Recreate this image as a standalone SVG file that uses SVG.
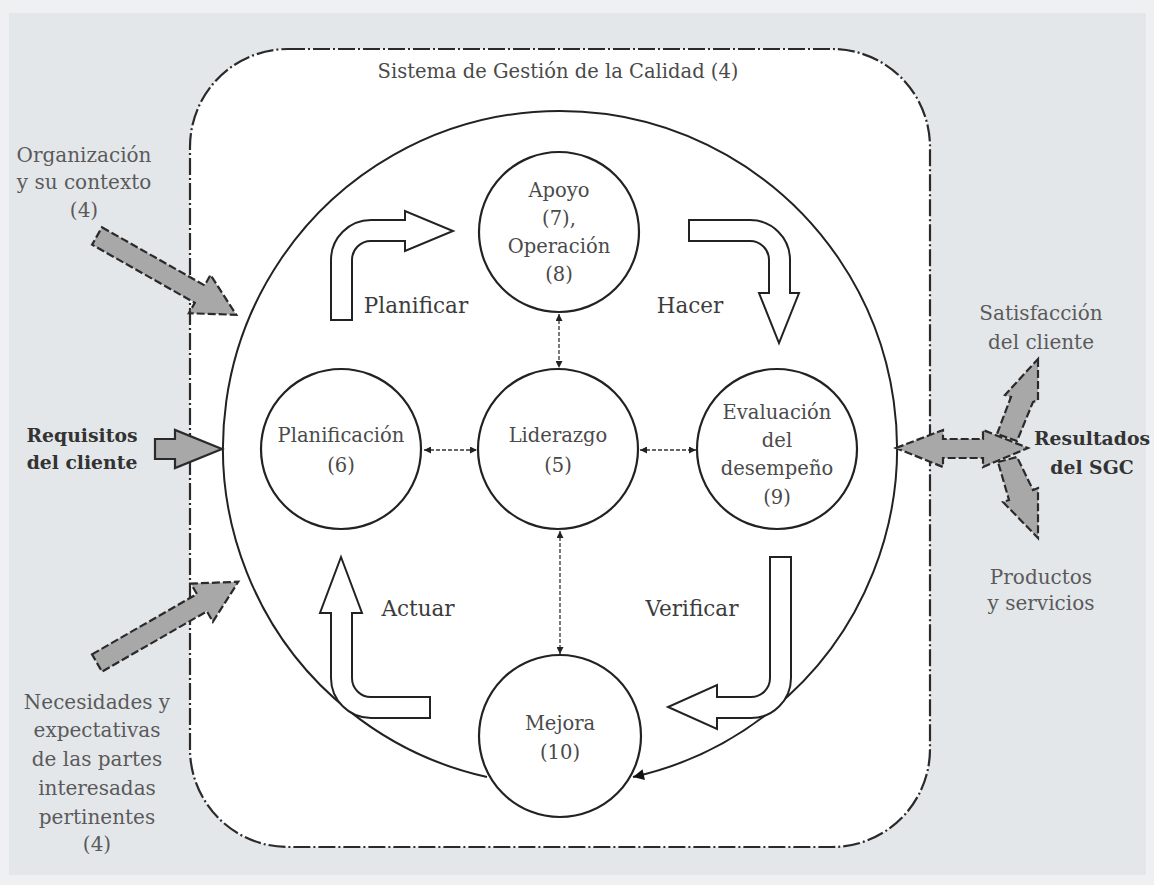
<svg xmlns="http://www.w3.org/2000/svg" width="1154" height="885" viewBox="0 0 1154 885">
<style>
.bg{fill:#e4e7ea}
.frame{fill:#ffffff;stroke:#2a2a2a;stroke-width:2.2;stroke-dasharray:17 3 2 3}
.node{fill:#ffffff;stroke:#222;stroke-width:2.2}
.big{fill:none;stroke:#222;stroke-width:2}
.ntext{font-family:"DejaVu Serif",serif;font-size:19.5px;fill:#4a4a4a;text-anchor:middle}
.lbl{font-family:"DejaVu Serif",serif;font-size:21.5px;fill:#3c3c3c;text-anchor:middle}
.otext{font-family:"DejaVu Serif",serif;font-size:20px;fill:#5a5a5a;text-anchor:middle}
.btext{font-family:"DejaVu Serif",serif;font-size:18.8px;font-weight:bold;fill:#333;text-anchor:middle}
.title{font-family:"DejaVu Serif",serif;font-size:19.5px;fill:#4a4a4a;text-anchor:middle}
.hollow{fill:#ffffff;stroke:#222;stroke-width:2}
.gray{fill:#a8a8a8;stroke:#2a2a2a;stroke-width:2.2;stroke-dasharray:8 3;stroke-linejoin:miter}
.graysolid{fill:#a8a8a8;stroke:#2a2a2a;stroke-width:2.2}
.dotted{fill:none;stroke:#333;stroke-width:1.3;stroke-dasharray:4 2;marker-start:url(#ds);marker-end:url(#de)}
</style>
<defs>
<marker id="de" viewBox="0 0 10 10" refX="10" refY="5" markerWidth="9" markerHeight="7" markerUnits="userSpaceOnUse" orient="auto"><path d="M0,0 L10,5 L0,10 z" fill="#222"/></marker>
<marker id="ds" viewBox="0 0 10 10" refX="0" refY="5" markerWidth="9" markerHeight="7" markerUnits="userSpaceOnUse" orient="auto"><path d="M10,0 L0,5 L10,10 z" fill="#222"/></marker>
<marker id="bigend" viewBox="0 0 10 10" refX="10" refY="5" markerWidth="20" markerHeight="11" markerUnits="userSpaceOnUse" orient="auto"><path d="M0,0 L10,5 L0,10 z" fill="#111"/></marker>
</defs>
<rect x="0" y="0" width="1154" height="885" fill="#eef0f1"/>
<rect class="bg" x="9" y="13" width="1137" height="862"/>
<rect id="sgc-frame" class="frame" x="190" y="49" width="740" height="798" rx="98" ry="98"/>
<text class="title" x="558" y="78">Sistema de Gestión de la Calidad (4)</text>

<g id="connectors">
<path class="big" d="M 487 777 A 337 337 0 1 1 633 777" marker-end="url(#bigend)"/>
<line class="dotted" x1="424" y1="450" x2="477" y2="450"/>
<line class="dotted" x1="640" y1="450" x2="696" y2="450"/>
<line class="dotted" x1="559" y1="314" x2="559" y2="368"/>
<line class="dotted" x1="560" y1="531" x2="560" y2="654"/>
</g>

<g id="cycle-arrows">
<path id="arrow-planificar" class="hollow" d="M331,320 L331,260 A40,40 0 0 1 371,220 L405,220 L405,211 L453,231 L405,251 L405,241 L371,241 A19,19 0 0 0 352,260 L352,320 Z"/>
<path id="arrow-hacer" class="hollow" d="M689,220 L750,220 A40,40 0 0 1 790,260 L790,293 L799,293 L779,343 L759,293 L769,293 L769,260 A19,19 0 0 0 750,241 L689,241 Z"/>
<path id="arrow-verificar" class="hollow" d="M770,557 L791,557 L791,678 A40,40 0 0 1 751,718 L717,718 L717,729 L668,707 L717,685 L717,697 L751,697 A19,19 0 0 0 770,678 Z"/>
<path id="arrow-actuar" class="hollow" d="M341,557 L362,613 L352,613 L352,678 A19,19 0 0 0 371,697 L430,697 L430,718 L371,718 A40,40 0 0 1 331,678 L331,613 L320,613 Z"/>
</g>
<g id="cycle-labels">
<text class="lbl" x="416" y="313">Planificar</text>
<text class="lbl" x="690" y="313">Hacer</text>
<text class="lbl" x="418" y="616">Actuar</text>
<text class="lbl" x="692" y="616">Verificar</text>
</g>

<g id="node-apoyo">
<circle class="node" cx="559" cy="232" r="80"/>
<text class="ntext" x="559" y="197">Apoyo</text>
<text class="ntext" x="559" y="225">(7),</text>
<text class="ntext" x="559" y="253">Operación</text>
<text class="ntext" x="559" y="281">(8)</text>
</g>
<g id="node-planificacion">
<circle class="node" cx="341" cy="449" r="80"/>
<text class="ntext" x="341" y="442">Planificación</text>
<text class="ntext" x="341" y="472">(6)</text>
</g>
<g id="node-liderazgo">
<circle class="node" cx="558" cy="449" r="80"/>
<text class="ntext" x="558" y="442">Liderazgo</text>
<text class="ntext" x="558" y="472">(5)</text>
</g>
<g id="node-evaluacion">
<circle class="node" cx="777" cy="449" r="80"/>
<text class="ntext" x="777" y="419">Evaluación</text>
<text class="ntext" x="777" y="447">del</text>
<text class="ntext" x="777" y="475">desempeño</text>
<text class="ntext" x="777" y="504">(9)</text>
</g>
<g id="node-mejora">
<circle class="node" cx="560" cy="736" r="81"/>
<text class="ntext" x="560" y="730">Mejora</text>
<text class="ntext" x="560" y="759">(10)</text>
</g>

<g id="input-organizacion">
<polygon class="gray" transform="translate(97,236) rotate(29.5)" points="0,-10 118,-10 118,-22 160,0 118,22 118,10 0,10"/>
<text class="otext" x="84" y="162">Organización</text>
<text class="otext" x="84" y="189">y su contexto</text>
<text class="otext" x="84" y="217">(4)</text>
</g>
<g id="input-requisitos">
<polygon class="graysolid" points="155,439 175,439 175,430 222,449 175,468 175,459 155,459"/>
<text class="btext" x="82" y="442">Requisitos</text>
<text class="btext" x="82" y="469">del cliente</text>
</g>
<g id="input-necesidades">
<polygon class="gray" transform="translate(97,663) rotate(-29.9)" points="0,-10 121,-10 121,-22 163,0 121,22 121,10 0,10"/>
<text class="otext" x="97" y="709">Necesidades y</text>
<text class="otext" x="97" y="737">expectativas</text>
<text class="otext" x="97" y="766">de las partes</text>
<text class="otext" x="97" y="795">interesadas</text>
<text class="otext" x="97" y="824">pertinentes</text>
<text class="otext" x="97" y="851">(4)</text>
</g>

<g id="output-resultados">
<polygon class="gray" points="1038,359 1038,400 1033,402 1017,441 997,434 1011,397 1005,395"/>
<polygon class="gray" points="998,462 1017,457 1033,490 1038,488 1038,538 1003,502 1009,500"/>
<polygon class="gray" points="896,448 943,430 943,439 983,439 983,430 1028,448 983,467 983,458 943,458 943,467"/>
<text class="otext" x="1041" y="320">Satisfacción</text>
<text class="otext" x="1041" y="349">del cliente</text>
<text class="btext" x="1092" y="445">Resultados</text>
<text class="btext" x="1092" y="474">del SGC</text>
<text class="otext" x="1041" y="584">Productos</text>
<text class="otext" x="1041" y="610">y servicios</text>
</g>
</svg>
